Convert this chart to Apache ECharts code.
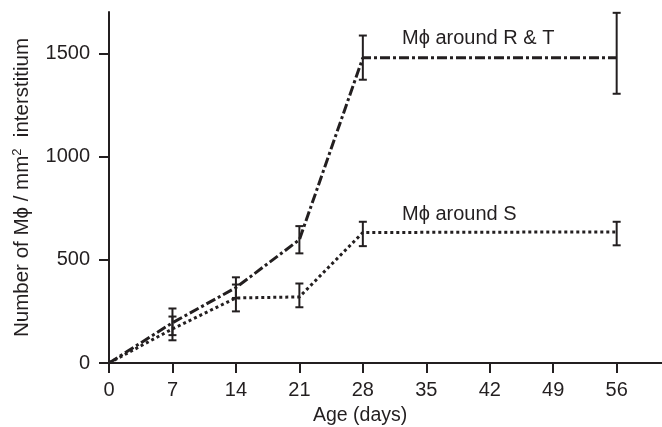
<!DOCTYPE html>
<html><head><meta charset="utf-8">
<script src="https://cdn.jsdelivr.net/npm/echarts@6/dist/echarts.min.js"></script>
<style>html,body{margin:0;padding:0;background:#fff}#c{width:662px;height:427px}</style>
</head><body><div id="c"></div>
<script>
const days = [0, 7, 14, 21, 28, 56];
const rtValues = [0, 195, 365, 597, 1478, 1478];
const rtLow = [null, 135, 315, 531, 1372, 1304];
const rtHigh = [null, 264, 415, 663, 1586, 1696];
const sValues = [0, 165, 315, 320, 632, 635];
const sLow = [null, 110, 250, 270, 566, 570];
const sHigh = [null, 225, 380, 385, 684, 684];
const xTicks = [0, 7, 14, 21, 28, 35, 42, 49, 56];
const yTicks = [0, 500, 1000, 1500];
const rtLabel = 'M\u03d5 around R & T';
const sLabel = 'M\u03d5 around S';
const xTitle = 'Age (days)';
const yTitleA = 'Number of M\u03d5 / mm';
const yTitleB = '  interstitium';

const FONT = '"Liberation Sans", Arial, "DejaVu Sans", sans-serif';
const INK = '#231f20';

function pairs(xs, ys) { return xs.map((x, i) => [x, ys[i]]); }
function errs(xs, lo, hi) {
  const out = [];
  xs.forEach((x, i) => { if (lo[i] != null) out.push([x, lo[i], hi[i]]); });
  return out;
}
function errRender(params, api) {
  const x = api.value(0);
  const lo = api.coord([x, api.value(1)]);
  const hi = api.coord([x, api.value(2)]);
  const w = 4;
  const st = { stroke: INK, lineWidth: 2 };
  return { type: 'group', children: [
    { type: 'line', shape: { x1: lo[0], y1: lo[1], x2: hi[0], y2: hi[1] }, style: st },
    { type: 'line', shape: { x1: lo[0] - w, y1: lo[1], x2: lo[0] + w, y2: lo[1] }, style: st },
    { type: 'line', shape: { x1: hi[0] - w, y1: hi[1], x2: hi[0] + w, y2: hi[1] }, style: st }
  ]};
}

const chart = echarts.init(document.getElementById('c'), null, { renderer: 'canvas' });
chart.setOption({
  animation: false,
  backgroundColor: '#fff',
  textStyle: { fontFamily: FONT },
  grid: { left: 109, right: 0, top: 12, bottom: 64, containLabel: false, outerBoundsMode: 'none' },
  xAxis: {
    type: 'value', min: 0, max: 61,
    axisLine: { lineStyle: { color: INK, width: 2 } },
    axisTick: { show: true, length: 10, lineStyle: { color: INK, width: 2 }, customValues: xTicks },
    axisLabel: { color: INK, fontSize: 20, fontFamily: FONT, margin: 17, customValues: xTicks,
      formatter: v => String(v) },
    splitLine: { show: false }
  },
  yAxis: {
    type: 'value', min: 0, max: 1700,
    axisLine: { show: true, lineStyle: { color: INK, width: 2 } },
    axisTick: { show: true, length: 10, lineStyle: { color: INK, width: 2 }, customValues: yTicks },
    axisLabel: { color: INK, fontSize: 20, fontFamily: FONT, margin: 19, customValues: yTicks,
      formatter: v => String(v) },
    splitLine: { show: false },
    name: yTitleA + '{sup|2}' + yTitleB,
    nameLocation: 'middle', nameGap: 75, nameRotate: 90,
    nameTextStyle: { color: INK, fontSize: 20.5, fontFamily: FONT,
      rich: { sup: { fontSize: 13, verticalAlign: 'bottom', padding: [0, 0, 10, 0], color: INK, fontFamily: FONT } } }
  },
  graphic: [
    { type: 'text', left: 402, top: 28, style: { text: rtLabel, font: '20px ' + FONT, fill: INK } },
    { type: 'text', left: 402, top: 204, style: { text: sLabel, font: '20px ' + FONT, fill: INK } },
    { type: 'text', left: 313, top: 406, style: { text: xTitle, font: '19.5px ' + FONT, fill: INK } }
  ],
  series: [
    { type: 'line', data: pairs(days, rtValues), symbol: 'none',
      lineStyle: { color: INK, width: 3, type: [10, 3, 3, 3] } },
    { type: 'line', data: pairs(days, sValues), symbol: 'none',
      lineStyle: { color: INK, width: 3, type: [3, 3] } },
    { type: 'custom', data: errs(days, rtLow, rtHigh), renderItem: errRender, z: 5 },
    { type: 'custom', data: errs(days, sLow, sHigh), renderItem: errRender, z: 5 }
  ]
});
</script></body></html>
